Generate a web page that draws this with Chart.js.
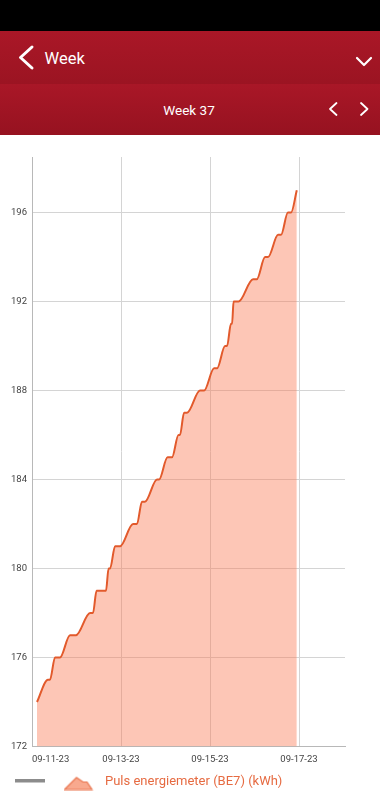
<!DOCTYPE html>
<html lang="en">
<head>
<meta charset="UTF-8">
<meta name="viewport" content="width=device-width, initial-scale=1.0">
<title>Week 37</title>
<script src="https://cdn.jsdelivr.net/npm/chart.js"></script>
<style>
    body { margin: 0; width: 380px; height: 800px; overflow: hidden; background: #fff; position: relative; font-family: Roboto, sans-serif; }
    #status { position: absolute; left: 0; top: 0; width: 380px; height: 31px; background: #000; }
    #bar1 { position: absolute; left: 0; top: 31px; width: 380px; height: 53px; background: linear-gradient(#aa1727, #9b1422); }
    #bar2 { position: absolute; left: 0; top: 84px; width: 380px; height: 51px; background: linear-gradient(#a91727, #961220); }
    #header { position: absolute; left: 0; top: 0; }
    #chartBox { position: absolute; left: 0; top: 135px; width: 380px; height: 665px; }
</style>
</head>
<body>
    <div id="status"></div>
    <div id="bar1"></div>
    <div id="bar2"></div>
    <svg id="header" width="380" height="135">
        <g fill="none" stroke="#fff" stroke-linecap="round" stroke-linejoin="round">
            <polyline points="32,47 20.5,57.5 32,68" stroke-width="3"/>
            <polyline points="357,58 364,65 371,58" stroke-width="2.2"/>
            <polyline points="336.5,103 330,109 336.5,115" stroke-width="1.8"/>
            <polyline points="361,103 367.5,109 361,115" stroke-width="1.8"/>
        </g>
        <text x="44.5" y="64" fill="#fff" font-family="Roboto" font-size="16.5">Week</text>
        <text x="189" y="114.5" fill="#fff" font-family="Roboto" font-size="13.5" text-anchor="middle">Week 37</text>
    </svg>
    <div id="chartBox">
        <canvas id="energyChart"></canvas>
    </div>
    <script>
        // x axis: hours since 09-11-23 00:00, one label every 2 days
        const dateLabels = ["09-11-23", "09-13-23", "09-15-23", "09-17-23"];
        const seriesLabel = "Puls energiemeter (BE7) (kWh)";

        // meter readings
        const hours = [2.7, 8.6, 9.7, 12.4, 15.1, 20.5, 23.7, 31.3, 32.9, 34.8, 39.9, 41.3, 42.1,
            44.8, 47.5, 54.5, 56.6, 59.3, 60.9, 67.4, 68.5, 73.1, 75.5, 79, 79.8, 82, 83.6,
            90.6, 92.8, 98.2, 99.8, 104.1, 105.2, 107.3, 107.9, 108.7, 111.4, 119.2, 121.2,
            125.7, 127.3, 132.7, 134.3, 138, 139.7, 142.8];
        const kwh = [174, 175, 175, 176, 176, 177, 177, 178, 178, 179, 179, 180, 180,
            181, 181, 182, 182, 183, 183, 184, 184, 185, 185, 186, 186, 187, 187,
            188, 188, 189, 189, 190, 190, 191, 191, 192, 192, 193, 193,
            194, 194, 195, 195, 196, 196, 197];

        const legendColor = "#e66b42";

        // little pictures for the legend
        function makeBarIcon() {
            const c = document.createElement("canvas");
            c.width = 34; c.height = 6;
            const g = c.getContext("2d");
            g.fillStyle = "#8c8c8c";
            g.fillRect(4, 0, 30, 4);
            return c;
        }

        function makeAreaIcon() {
            const c = document.createElement("canvas");
            c.width = 34; c.height = 18;
            const g = c.getContext("2d");
            g.beginPath();
            g.moveTo(1, 17);
            g.lineTo(13, 5);
            g.lineTo(19.5, 9.5);
            g.lineTo(23.5, 9.5);
            g.lineTo(28.5, 17);
            g.closePath();
            g.fillStyle = "#f8a98e";
            g.fill();
            g.strokeStyle = "#e9744e";
            g.lineWidth = 1.2;
            g.stroke();
            return c;
        }

        const barIcon = makeBarIcon();
        const areaIcon = makeAreaIcon();

        const ctx = document.getElementById("energyChart").getContext("2d");
        new Chart(ctx, {
            type: "line",
            data: {
                datasets: [{
                    label: seriesLabel,
                    data: hours.map((h, i) => ({ x: h, y: kwh[i] })),
                    borderColor: "#e25a2c",
                    borderWidth: 2,
                    backgroundColor: "rgba(250, 120, 80, 0.42)",
                    fill: "start",
                    pointRadius: 0,
                    cubicInterpolationMode: "monotone",
                }],
            },
            options: {
                responsive: true,
                maintainAspectRatio: false,
                animation: false,
                layout: { padding: { left: 0, right: 35, top: 22, bottom: 2 } },
                plugins: {
                    tooltip: { enabled: false },
                    legend: {
                        position: "bottom",
                        align: "start",
                        labels: {
                            usePointStyle: true,
                            pointStyleWidth: 36,
                            padding: 10,
                            color: legendColor,
                            font: { family: "Roboto", size: 13 },
                            generateLabels: () => [
                                { text: "", pointStyle: barIcon, hidden: false, datasetIndex: 0, lineWidth: 0, fontColor: legendColor },
                                { text: seriesLabel, pointStyle: areaIcon, hidden: false, datasetIndex: 0, lineWidth: 0, fontColor: legendColor },
                            ],
                        },
                    },
                },
                scales: {
                    x: {
                        type: "linear",
                        min: 0,
                        max: 168.8,
                        afterFit: (s) => { s.height = 18.5; },
                        grid: {
                            drawTicks: false,
                            color: (c) => (c.tick && c.tick.value % 48 === 0 ? "#d4d4d4" : "rgba(0,0,0,0)"),
                        },
                        border: { color: "#b8b8b8", width: 1 },
                        ticks: {
                            stepSize: 48,
                            autoSkip: false,
                            maxRotation: 0,
                            align: "inner",
                            padding: 7,
                            color: "#444",
                            font: { family: "Roboto", size: 9.5 },
                            callback: (v) => (v % 48 === 0 ? dateLabels[v / 48] : ""),
                        },
                    },
                    y: {
                        min: 172,
                        max: 198.5,
                        afterFit: (s) => { s.width = 32; },
                        afterBuildTicks: (s) => { s.ticks = s.ticks.filter((t) => (t.value - 172) % 4 === 0); },
                        grid: { drawTicks: false, color: "#d4d4d4" },
                        border: { color: "#b8b8b8", width: 1 },
                        ticks: {
                            stepSize: 4,
                            padding: 5,
                            color: "#444",
                            font: { family: "Roboto", size: 9.5 },
                        },
                    },
                },
            },
        });
    </script>
</body>
</html>
